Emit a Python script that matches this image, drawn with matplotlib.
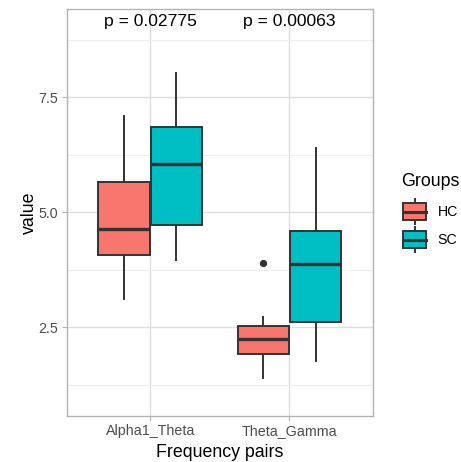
import matplotlib
matplotlib.use("Agg")
import matplotlib.pyplot as plt
from matplotlib.patches import Rectangle
from matplotlib.lines import Line2D
from matplotlib.ticker import MultipleLocator

plt.rcParams['font.family'] = ['Liberation Sans', 'DejaVu Sans']

pairs = ["Alpha1_Theta", "Theta_Gamma"]
groups = ["HC", "SC"]
colors = {"HC": "#F8766D", "SC": "#00BFC4"}

# box statistics per group, one value per frequency pair
hc_whislo = [3.11, 1.39]
hc_q1 = [4.07, 1.91]
hc_med = [4.63, 2.25]
hc_q3 = [5.66, 2.52]
hc_whishi = [7.09, 2.73]
hc_fliers = [[], [3.90]]

sc_whislo = [3.96, 1.76]
sc_q1 = [4.72, 2.62]
sc_med = [6.06, 3.88]
sc_q3 = [6.85, 4.59]
sc_whishi = [8.03, 6.40]
sc_fliers = [[], []]

pvalues = ["p = 0.02775", "p = 0.00063"]
p_y = 9.14

W, H = 461, 462
fig = plt.figure(figsize=(W / 100, H / 100), dpi=100)
L, R, B, T = 66.7, 373, 415.7, 9.3
ax = fig.add_axes([L / W, 1 - B / H, (R - L) / W, (B - T) / H])

line_c = "#333333"
stats_by_group = {
    "HC": (hc_whislo, hc_q1, hc_med, hc_q3, hc_whishi, hc_fliers),
    "SC": (sc_whislo, sc_q1, sc_med, sc_q3, sc_whishi, sc_fliers),
}
offsets = {"HC": -0.1875, "SC": 0.1875}
for g in groups:
    lo, q1, md, q3, hi, fl = stats_by_group[g]
    stats = []
    for i in range(len(pairs)):
        stats.append(dict(whislo=lo[i], q1=q1[i], med=md[i], q3=q3[i],
                          whishi=hi[i], fliers=fl[i]))
    pos = [i + 1 + offsets[g] for i in range(len(pairs))]
    ax.bxp(stats, positions=pos, widths=0.37, patch_artist=True,
           showcaps=False, manage_ticks=False,
           boxprops=dict(facecolor=colors[g], edgecolor=line_c, linewidth=1.4),
           medianprops=dict(color=line_c, linewidth=2.4, solid_capstyle='butt'),
           whiskerprops=dict(color=line_c, linewidth=1.4),
           flierprops=dict(marker='o', markerfacecolor=line_c,
                           markeredgecolor=line_c, markersize=4.2))

for i, p in enumerate(pvalues):
    ax.text(i + 1, p_y, p, ha='center', va='center', fontsize=12.6, color='black')

ax.set_xlim(0.4, 2.6)
ax.set_ylim(0.578, 9.413)
ax.set_xticks([1, 2])
ax.set_xticklabels(pairs)
ax.yaxis.set_minor_locator(MultipleLocator(1.25))
ax.set_yticks([2.5, 5.0, 7.5])
ax.set_yticklabels(["2.5", "5.0", "7.5"])
ax.grid(True, which='major', color='#DEDEDE', linewidth=1.0)
ax.grid(True, which='minor', axis='y', color='#EBEBEB', linewidth=0.6)
ax.set_axisbelow(True)
for s in ax.spines.values():
    s.set_color('#B3B3B3')
    s.set_linewidth(1.0)
ax.tick_params(which='major', color='#B3B3B3', length=3.5, width=0.8,
               labelcolor='#4D4D4D', labelsize=10.3, pad=2.5)
ax.tick_params(which='minor', length=0)
ax.set_xlabel("Frequency pairs", fontsize=12.8, labelpad=4)
ax.set_ylabel("value", fontsize=12.8, labelpad=0.5)

# legend drawn in an overlay axes using pixel coordinates
lax = fig.add_axes([0, 0, 1, 1], facecolor='none')
lax.set_xlim(0, W)
lax.set_ylim(H, 0)
lax.axis('off')
lax.text(401.5, 181.7, "Groups", fontsize=12.8, ha='left', va='center')
for j, g in enumerate(groups):
    cy = 211.7 + j * 27.8
    cx = 414.5
    lax.add_line(Line2D([cx, cx], [cy - 12.5, cy + 12.5], color=line_c, lw=1.4))
    lax.add_patch(Rectangle((403.3, cy - 8.3), 22.4, 16.6, facecolor=colors[g],
                            edgecolor=line_c, lw=1.4, zorder=3))
    lax.add_line(Line2D([403.3, 425.7], [cy, cy], color=line_c, lw=2.2, zorder=4))
    lax.text(437.5, cy, g, fontsize=10.2, ha='left', va='center', color='black')

fig.savefig("out.png", dpi=100)
